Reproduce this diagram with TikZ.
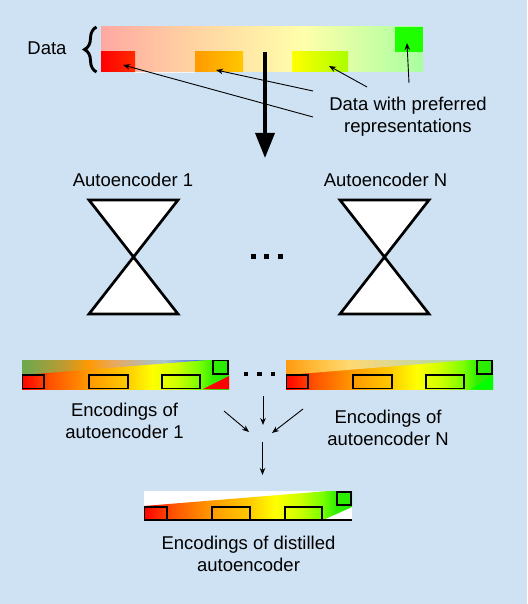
\documentclass[tikz,border=0pt]{standalone}
\usepackage{fontspec}
\setmainfont{Liberation Sans}
\usetikzlibrary{arrows.meta,decorations.pathreplacing}
\definecolor{bg}{HTML}{CFE2F3}
\definecolor{dA}{HTML}{FFA8A2}
\definecolor{dB}{HTML}{FFD2A2}
\definecolor{dC}{HTML}{FFFFAA}
\definecolor{dD}{HTML}{A8FFA0}
\definecolor{eA}{HTML}{FF0000}
\definecolor{eB}{HTML}{FF5200}
\definecolor{eC}{HTML}{FF9900}
\definecolor{eD}{HTML}{FFC800}
\definecolor{eE}{HTML}{FFFF00}
\definecolor{eF}{HTML}{CCFF00}
\definecolor{eG}{HTML}{77FF00}
\definecolor{eH}{HTML}{33EE00}
\definecolor{eI}{HTML}{22EE00}
\definecolor{oA}{HTML}{6AA84F}
\definecolor{oB}{HTML}{C09A30}
\definecolor{oC}{HTML}{FF9900}
\definecolor{oD}{HTML}{E8A860}
\definecolor{oE}{HTML}{C0B8A0}
\definecolor{oF}{HTML}{A8C4D0}
\definecolor{oG}{HTML}{7090E0}
\definecolor{oH}{HTML}{3050FF}
\definecolor{nA}{HTML}{FF9A10}
\definecolor{nB}{HTML}{FFC040}
\definecolor{nC}{HTML}{FFD870}
\definecolor{nD}{HTML}{E0D890}
\definecolor{nE}{HTML}{C0D8A0}
\definecolor{nF}{HTML}{A8D0B0}
\definecolor{strip}{HTML}{F2F6FA}
\definecolor{grnsq}{HTML}{1EFF00}
\definecolor{brgrn}{HTML}{00FF00}
\definecolor{redB}{HTML}{FF2A00}
\definecolor{ygB}{HTML}{AAFF00}
\pgfdeclarehorizontalshading{databar}{100bp}{color(0bp)=(dA); color(25bp)=(dA); color(38.8bp)=(dB); color(56.4bp)=(dC); color(75bp)=(dD); color(100bp)=(dD)}
\pgfdeclarehorizontalshading{encbar}{100bp}{color(0bp)=(eA); color(25bp)=(eA); color(31.8bp)=(eB); color(41bp)=(eC); color(50bp)=(eD); color(56.5bp)=(eE); color(62.5bp)=(eF); color(68bp)=(eG); color(71bp)=(eH); color(75bp)=(eI); color(100bp)=(eI)}
\pgfdeclarehorizontalshading{ovlone}{100bp}{color(0bp)=(oA); color(25bp)=(oA); color(36.6bp)=(oB); color(42.8bp)=(oC); color(50bp)=(oD); color(57bp)=(oE); color(63.6bp)=(oF); color(69bp)=(oG); color(75bp)=(oH); color(100bp)=(oH)}
\pgfdeclarehorizontalshading{ovlN}{100bp}{color(0bp)=(nA); color(25bp)=(nA); color(34bp)=(nB); color(42bp)=(nC); color(53bp)=(nD); color(64bp)=(nE); color(75bp)=(nF); color(100bp)=(nF)}
\tikzset{
  lbl/.style={font=\fontsize{18.5}{22}\selectfont, inner sep=0pt, text=black},
  thinarrow/.style={line width=0.9pt, -{Stealth[length=7pt,width=5.5pt]}},
  bigarrow/.style={line width=3.5pt, -{Triangle[length=25pt,width=19pt]}},
  hg/.style={draw=black, fill=white, line width=2.7pt},
  box/.style={draw=black, line width=1.3pt},
  dotsq/.style={rectangle, fill=black, inner sep=0pt, minimum size=5pt},
}
\begin{document}
\begin{tikzpicture}[x=1pt,y=-1pt]
\useasboundingbox (0,0) rectangle (527,604);
\fill[bg] (0,0) rectangle (527,604);

% ---------- Data bar ----------
\shade[shading=databar] (101,27) rectangle (423,72);
\fill[strip] (135,72) rectangle (195,73.5);
\shade[left color=eA, right color=redB] (101,52) rectangle (135,72);
\shade[left color=eC, right color=eD] (195,52) rectangle (243,72);
\shade[left color=eE, right color=ygB] (292,52) rectangle (348,72);
\fill[grnsq] (395,27) rectangle (423,52);
\draw[line width=2.9pt, decorate, decoration={brace, amplitude=12pt}] (96.5,72) -- (96.5,27);
\node[lbl, anchor=base] (datalbl) at (47,55) {Data};

\node[lbl, anchor=base, align=center] (pref) at (408,133) {Data with preferred\\representations};

\coordinate (tRed) at (313,117);
\coordinate (hRed) at (123,65);
\coordinate (tOr) at (313,91);
\coordinate (hOr) at (216,70);
\coordinate (tYe) at (367,87);
\coordinate (hYe) at (329,66);
\coordinate (tGr) at (409,83);
\coordinate (hGr) at (407,43);
\draw[thinarrow] (tRed) -- (hRed);
\draw[thinarrow] (tOr) -- (hOr);
\draw[thinarrow] (tYe) -- (hYe);
\draw[thinarrow] (tGr) -- (hGr);

\coordinate (bigS) at (265,52);
\coordinate (bigE) at (265,158);
\draw[bigarrow] (bigS) -- (bigE);

% ---------- Autoencoders ----------
\node[lbl, anchor=base] (ae1) at (133,186) {Autoencoder 1};
\node[lbl, anchor=base] (aeN) at (385.5,186) {Autoencoder N};
\draw[hg] (89,200) -- (178,200) -- (89,314) -- (178,314) -- cycle;
\draw[hg] (340,200) -- (429,200) -- (340,314) -- (429,314) -- cycle;
\node[dotsq] (m1) at (253,256.5) {};
\node[dotsq] (m2) at (266.5,256.5) {};
\node[dotsq] (m3) at (280,256.5) {};

% ---------- Encodings bar 1 ----------
\begin{scope}[shift={(22,360)}]
\shade[shading=encbar] (0,0) rectangle (207,29);
\shade[shading=ovlone] (0,0) -- (185,0) -- (0,15) -- cycle;
\fill[eA] (181,29) -- (207,16) -- (207,29) -- cycle;
\draw[box] (0.6,15) rectangle (22,28.4);
\draw[box] (67,15) rectangle (106,28.4);
\draw[box] (140,15) rectangle (178,28.4);
\draw[box] (191,0.6) rectangle (206,14);
\end{scope}

% ---------- Encodings bar N ----------
\begin{scope}[shift={(286,360)}]
\shade[shading=encbar] (0,0) rectangle (207,29);
\shade[shading=ovlN] (0,0) -- (184,0) -- (0,15) -- cycle;
\fill[brgrn] (185,29) -- (207,16) -- (207,29) -- cycle;
\draw[box] (0.6,15) rectangle (22,28.4);
\draw[box] (67,15) rectangle (106,28.4);
\draw[box] (140,15) rectangle (178,28.4);
\draw[box] (191,0.6) rectangle (206,14);
\end{scope}

\node[dotsq, minimum size=4.5pt] (e1) at (246,374) {};
\node[dotsq, minimum size=4.5pt] (e2) at (259.5,374) {};
\node[dotsq, minimum size=4.5pt] (e3) at (273,374) {};

\node[lbl, anchor=base, align=center] (enc1) at (124.5,438) {Encodings of\\autoencoder 1};
\node[lbl, anchor=base, align=center] (encN) at (388,445) {Encodings of\\autoencoder N};

\coordinate (a1s) at (224,411);
\coordinate (a1e) at (249,432);
\coordinate (a2s) at (263,396);
\coordinate (a2e) at (263,425);
\coordinate (a3s) at (303,409);
\coordinate (a3e) at (272,433);
\coordinate (a4s) at (262.5,442);
\coordinate (a4e) at (262.5,475);
\draw[thinarrow] (a1s) -- (a1e);
\draw[thinarrow] (a2s) -- (a2e);
\draw[thinarrow] (a3s) -- (a3e);
\draw[thinarrow] (a4s) -- (a4e);

% ---------- Distilled bar ----------
\fill[white] (144,491) rectangle (352,520);
\shade[shading=encbar] (144,506) -- (328,491) -- (352,491) -- (352,507) -- (323,520) -- (144,520) -- cycle;
\draw[box] (144.6,507) rectangle (167,520);
\draw[box] (212,507) rectangle (250,520);
\draw[box] (285,507) rectangle (322,520);
\draw[box] (337,492) rectangle (351,505);
\draw[line width=2pt] (143.6,520.3) -- (352,520.3);

\node[lbl, anchor=base, align=center] (encD) at (248.5,571) {Encodings of distilled\\autoencoder};
\end{tikzpicture}
\end{document}
